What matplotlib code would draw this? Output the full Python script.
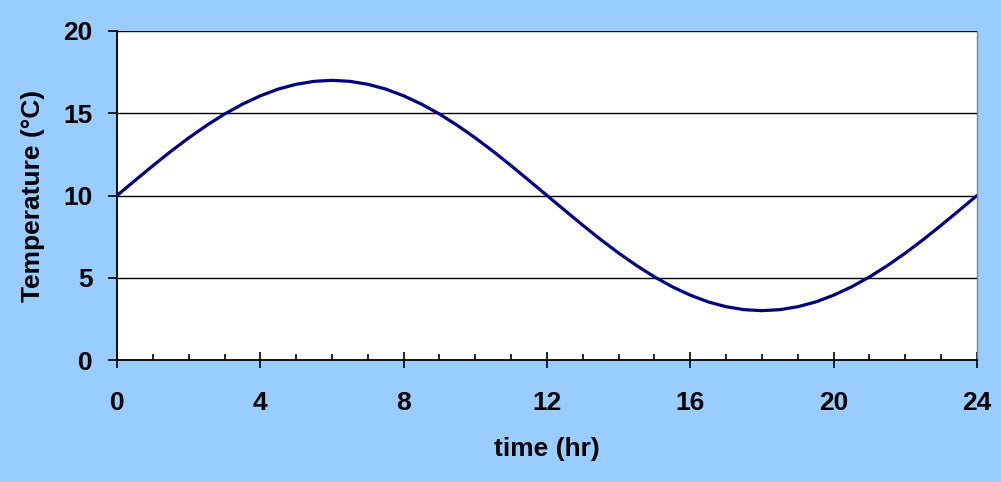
import matplotlib
matplotlib.use("Agg")
import matplotlib.pyplot as plt
from matplotlib.ticker import MultipleLocator

# readings every half hour
hours = [i * 0.5 for i in range(49)]
temperature = [10.0, 10.91, 11.81, 12.68, 13.5, 14.26, 14.95, 15.55, 16.06, 16.47,
               16.76, 16.94, 17.0, 16.94, 16.76, 16.47, 16.06, 15.55, 14.95, 14.26,
               13.5, 12.68, 11.81, 10.91, 10.0, 9.09, 8.19, 7.32, 6.5, 5.74,
               5.05, 4.45, 3.94, 3.53, 3.24, 3.06, 3.0, 3.06, 3.24, 3.53,
               3.94, 4.45, 5.05, 5.74, 6.5, 7.32, 8.19, 9.09, 10.0]
x_ticks = [0, 4, 8, 12, 16, 20, 24]
y_ticks = [0, 5, 10, 15, 20]

plt.rcParams['font.family'] = ['Liberation Sans', 'DejaVu Sans']
bg = '#99CCFF'
fig = plt.figure(figsize=(10.01, 4.82), dpi=100, facecolor=bg)
ax = fig.add_axes([117/1001, 1-360/482, (977-117)/1001, (360-31)/482])
ax.set_facecolor('white')

ax.plot(hours, temperature, color='#000080', lw=2.3, solid_joinstyle='round',
        solid_capstyle='round')

ax.set_xlim(0, 24)
ax.set_ylim(0, 20)
ax.set_xticks(x_ticks)
ax.set_yticks(y_ticks)
ax.xaxis.set_minor_locator(MultipleLocator(1))
for y in y_ticks[1:]:
    ax.axhline(y, color='black', lw=1, zorder=0.5)

ax.tick_params(axis='x', which='major', direction='inout', length=12, width=1.2,
               labelsize=19, pad=16)
ax.tick_params(axis='x', which='minor', direction='in', length=4.5, width=1.2)
ax.tick_params(axis='y', which='major', direction='out', length=6.5, width=1.2,
               labelsize=19, pad=11)
for lab in ax.get_xticklabels() + ax.get_yticklabels():
    lab.set_fontweight('bold')

for s in ['left', 'bottom']:
    ax.spines[s].set_color('black')
    ax.spines[s].set_linewidth(1.3)
ax.spines['right'].set_color('#808080')
ax.spines['right'].set_linewidth(1)
ax.spines['top'].set_visible(False)

ax.set_xlabel('time (hr)', fontsize=19, fontweight='bold', labelpad=16)
ax.set_ylabel('Temperature (°C)', fontsize=19, fontweight='bold', labelpad=13)

fig.savefig('out.png', dpi=100, facecolor=bg)
